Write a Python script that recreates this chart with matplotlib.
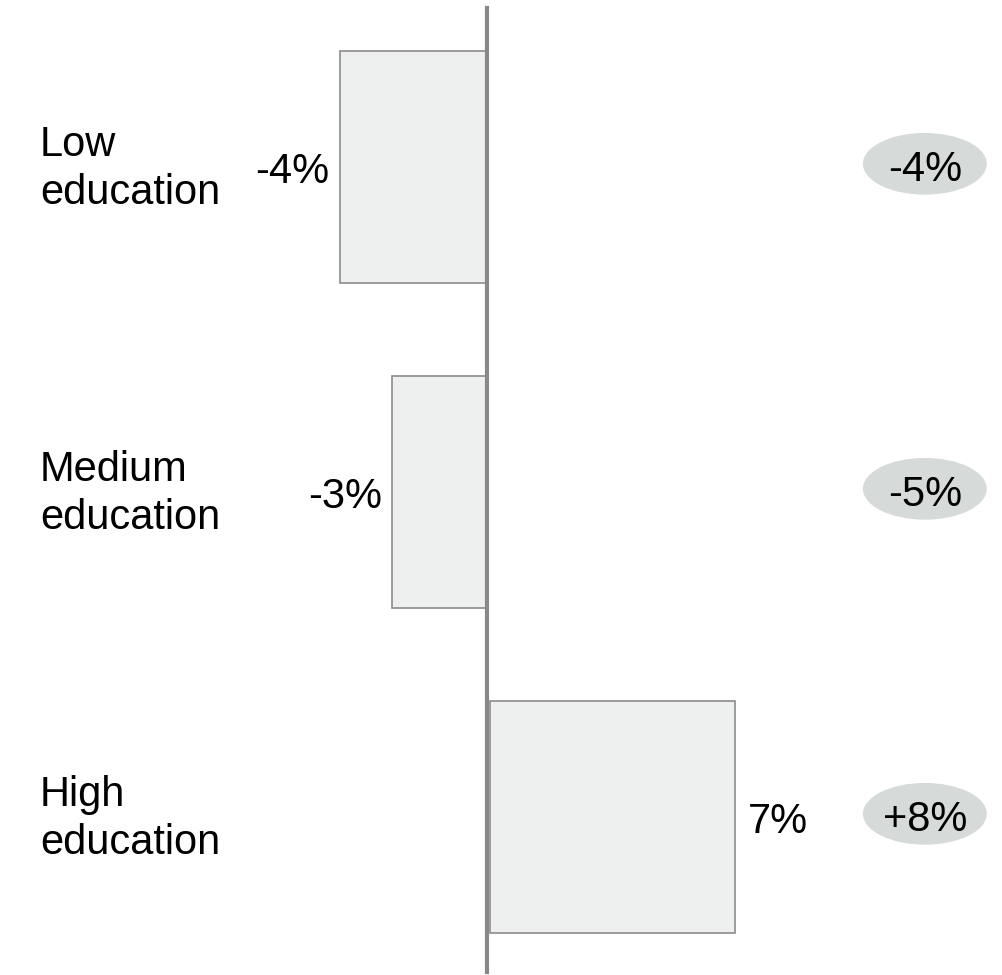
import matplotlib.pyplot as plt
from matplotlib.patches import Ellipse

# --- Data ---
categories = ["Low\neducation", "Medium\neducation", "High\neducation"]
values = [-4.2, -2.7, 7.0]
value_labels = ["-4%", "-3%", "7%"]
bubble_labels = ["-4%", "-5%", "+8%"]

# --- Figure (1 unit = 35 px horizontally, one row = 325 px) ---
fig = plt.figure(figsize=(10.03, 9.75), dpi=100)
ax = fig.add_axes([0, 0, 1, 1])
ax.set_xlim(-13.914, 14.743)
ax.set_ylim(2.486, -0.514)
ax.axis("off")

font = "Liberation Sans"
fs = 30

for i, (cat, v, lab, bub) in enumerate(zip(categories, values, value_labels, bubble_labels)):
    left = 0.1 if v > 0 else 0
    ax.barh(i, v, left=left, height=0.714, color="#eef0ef",
            edgecolor="#8c8c8c", linewidth=1.2, zorder=2)
    # value label beside the bar end
    if v < 0:
        ax.text(v - 0.3, i, lab, ha="right", va="center_baseline", fontsize=fs, family=font)
    else:
        ax.text(v + left + 0.35, i, lab, ha="left", va="center_baseline", fontsize=fs, family=font)
    # category label
    ax.text(-12.77, i + 0.005, cat, ha="left", va="center", fontsize=fs, family=font,
            linespacing=1.26)
    # bubble with total change
    ax.add_patch(Ellipse((12.51, i - 0.01), 3.54, 0.19, facecolor="#d6dbd9",
                         edgecolor="none", zorder=2))
    ax.text(12.51, i - 0.005, bub, ha="center", va="center_baseline", fontsize=fs,
            family=font, zorder=3)

# central axis line
ax.axvline(0, ymin=0.003, ymax=0.992, color="#888888", linewidth=3, zorder=3)

plt.savefig("out.png", dpi=100)
